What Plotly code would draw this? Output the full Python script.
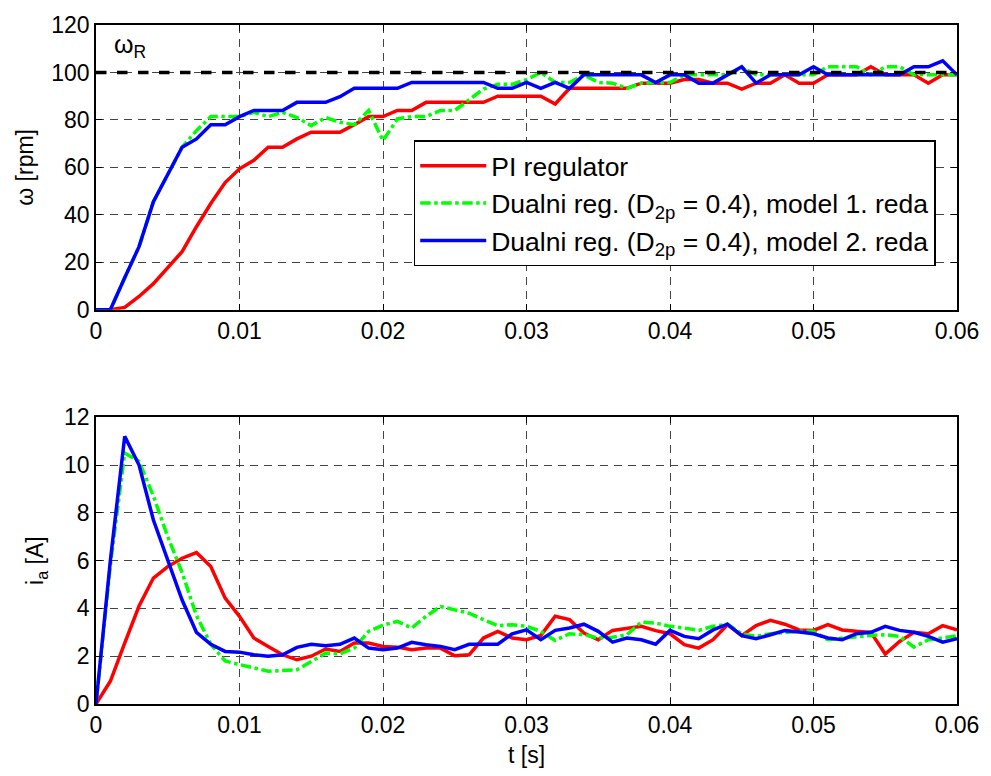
import plotly.graph_objects as go
from plotly.subplots import make_subplots

t = [k * 0.001 for k in range(61)]

omega_pi = [0, 0, 1, 5.6, 11, 17.5, 24.5, 35, 44.8, 53.6, 59.4, 63, 68.5, 68.5, 72, 74.8, 74.8, 74.8, 78, 81.4,
            81.4, 84, 84, 87.4, 87.4, 87.4, 87.4, 87.4, 90, 90, 90, 90, 86.7, 93.3, 93.3, 93.3, 93.3, 93.3, 95.5, 95.5,
            95.5, 97, 97, 95.5, 95.5, 93, 95.5, 95.5, 99, 95.5, 95.5, 99, 99, 99, 102.4, 99, 99, 99, 95.5, 99, 99]
omega_m1 = [0, 0, 13.5, 26.6, 45.5, 57, 68.5, 75.5, 81.4, 81.4, 81.4, 83.2, 81.4, 83.2, 81, 77.6, 81, 79, 78, 84,
            71.3, 80.4, 81.4, 81.4, 84, 84, 88.5, 93, 95, 95, 97, 100, 95.8, 95.8, 99, 95.8, 95.5, 93.3, 95.5, 95.5,
            95.8, 99, 99, 99, 99, 102, 99, 99, 99, 99, 99, 102.4, 102.4, 102.4, 99, 102.4, 102.4, 99, 99, 99, 99]
omega_m2 = [0, 0, 13.5, 26.6, 45.5, 57, 68.5, 72, 78, 78, 81.4, 84, 84, 84, 87.4, 87.4, 87.4, 89.8, 93.3, 93.3,
            93.3, 93.3, 95.8, 95.8, 95.8, 95.8, 95.8, 95.8, 93.3, 93.3, 95.8, 93.3, 95.8, 93.3, 99, 99, 99, 99, 99, 95.8,
            99, 99, 95.5, 95.5, 99, 102.4, 95.5, 99, 99, 99, 102.4, 99, 99, 99, 99, 99, 99, 102.4, 102.4, 104.9, 99]
omega_ref = 100

ia_pi = [0, 0.95, 2.55, 4.1, 5.27, 5.75, 6.1, 6.34, 5.75, 4.43, 3.67, 2.76, 2.41, 2.06, 1.85, 2.0, 2.3, 2.2, 2.55, 2.55,
         2.41, 2.38, 2.27, 2.34, 2.34, 2.02, 2.06, 2.76, 3.04, 2.76, 2.69, 2.87, 3.67, 3.53, 2.97, 2.69, 3.08, 3.18, 3.25, 3.07,
         2.94, 2.48, 2.34, 2.69, 3.32, 2.86, 3.28, 3.5, 3.34, 3.1, 3.08, 3.32, 3.1, 3.04, 3.0, 2.09, 2.62, 3.0, 2.94, 3.28, 3.1]
ia_m1 = [0, 5.8, 10.5, 10.15, 8.7, 7.0, 5.5, 3.7, 2.5, 1.8, 1.65, 1.5, 1.37, 1.4, 1.43, 1.78, 2.13, 2.1, 2.34, 3.04,
         3.3, 3.46, 3.18, 3.67, 4.08, 3.94, 3.8, 3.53, 3.28, 3.32, 3.25, 3.04, 2.66, 2.94, 2.9, 2.76, 2.79, 2.9, 3.43, 3.39,
         3.25, 3.18, 3.08, 3.25, 3.34, 2.94, 2.83, 2.94, 3.0, 3.04, 3.04, 2.69, 2.76, 2.83, 2.87, 2.9, 2.83, 2.38, 2.69, 2.76, 2.86]
ia_m2 = [0, 6.0, 11.2, 10.0, 7.7, 6.0, 4.35, 3.0, 2.5, 2.2, 2.17, 2.06, 2.0, 2.06, 2.37, 2.5, 2.44, 2.5, 2.76, 2.34,
         2.27, 2.34, 2.58, 2.48, 2.41, 2.27, 2.5, 2.5, 2.5, 2.94, 3.1, 2.69, 3.08, 3.18, 3.34, 3.04, 2.59, 2.76, 2.69, 2.5,
         3.08, 2.83, 2.73, 3.1, 3.34, 2.86, 2.73, 2.9, 3.07, 3.01, 2.94, 2.76, 2.69, 2.94, 3.0, 3.25, 3.08, 3.0, 2.83, 2.59, 2.73]

names = ["PI regulator",
         "Dualni reg. (D<sub>2p</sub> = 0.4), model 1. reda",
         "Dualni reg. (D<sub>2p</sub> = 0.4), model 2. reda"]
colors = ["#ff0000", "#00ff00", "#0000ff"]
dashes = ["solid", "dashdot", "solid"]

x_ticks = [0, 0.01, 0.02, 0.03, 0.04, 0.05, 0.06]
x_ticktext = ["0", "0.01", "0.02", "0.03", "0.04", "0.05", "0.06"]
top_ticks = [0, 20, 40, 60, 80, 100, 120]
bot_ticks = [0, 2, 4, 6, 8, 10, 12]

FONT = "Liberation Sans"
FS = 23
LW = 3.5

fig = make_subplots(rows=2, cols=1, vertical_spacing=0.0)

for ys, nm, c, d in zip([omega_pi, omega_m1, omega_m2], names, colors, dashes):
    fig.add_trace(go.Scatter(x=t, y=ys, name=nm, mode="lines",
                             line=dict(color=c, width=LW, dash=d), legendgroup=nm), row=1, col=1)
fig.add_trace(go.Scatter(x=[t[0], t[-1]], y=[omega_ref, omega_ref], mode="lines", showlegend=False,
                         line=dict(color="black", width=3.5, dash="dash")), row=1, col=1)
for ys, nm, c, d in zip([ia_pi, ia_m1, ia_m2], names, colors, dashes):
    fig.add_trace(go.Scatter(x=t, y=ys, name=nm, mode="lines", showlegend=False,
                             line=dict(color=c, width=LW, dash=d), legendgroup=nm), row=2, col=1)

axis_common = dict(showline=True, linecolor="black", linewidth=1.5, mirror="ticks",
                   ticks="inside", ticklen=6, tickcolor="black", tickwidth=1,
                   showgrid=True, gridcolor="#444444", gridwidth=1, griddash="8px,6px",
                   zeroline=False, tickfont=dict(size=FS, color="black", family=FONT))

fig.update_xaxes(range=[0, 0.06], tickvals=x_ticks, ticktext=x_ticktext, **axis_common)
fig.update_yaxes(**axis_common)
fig.update_yaxes(range=[0, 120], tickvals=top_ticks, row=1, col=1,
                 title=dict(text="ω [rpm]", font=dict(size=FS, family=FONT, color="black"), standoff=11))
fig.update_yaxes(range=[0, 12], tickvals=bot_ticks, row=2, col=1,
                 title=dict(text="i<sub>a</sub> [A]", font=dict(size=FS, family=FONT, color="black"), standoff=14))
fig.update_xaxes(row=2, col=1,
                 title=dict(text="t [s]", font=dict(size=FS, family=FONT, color="black"), standoff=10))

fig.update_layout(
    width=991, height=776,
    margin=dict(l=96, r=31, t=22, b=72),
    paper_bgcolor="white", plot_bgcolor="white",
    font=dict(family=FONT, size=FS, color="black"),
    xaxis=dict(domain=[0, 1]), xaxis2=dict(domain=[0, 1]),
    yaxis=dict(domain=[0.5806, 1.0]), yaxis2=dict(domain=[0.0, 0.4223]),
    legend=dict(x=0.369, y=0.83, xanchor="left", yanchor="top",
                bgcolor="white", bordercolor="black", borderwidth=1.5,
                font=dict(size=26.5, family=FONT, color="black"),
                itemwidth=66, tracegroupgap=0),
    showlegend=True,
)

fig.add_annotation(x=0.0024, y=111, xref="x", yref="y", text="ω<sub>R</sub>", showarrow=False,
                   font=dict(size=25, family=FONT, color="black"))

fig.write_html("out.html", post_script="document.body.style.margin='0px';",
               config={"displayModeBar": False})
